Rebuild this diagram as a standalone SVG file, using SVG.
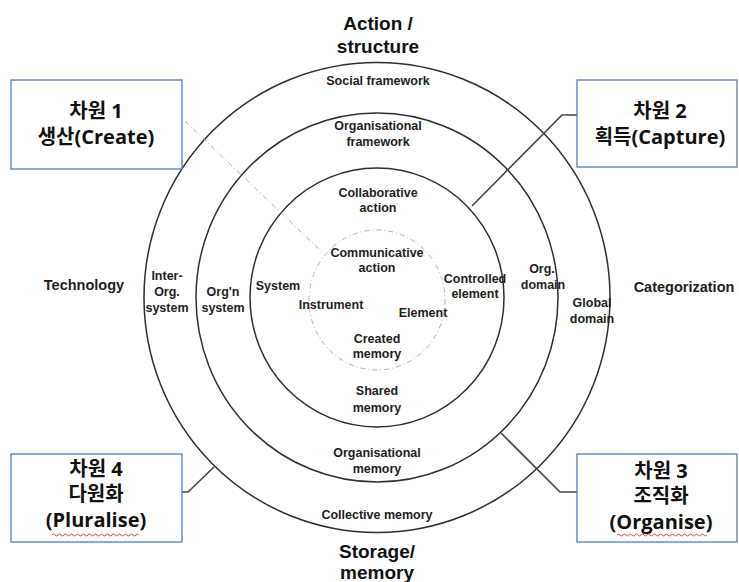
<svg xmlns="http://www.w3.org/2000/svg" width="739" height="582" viewBox="0 0 739 582">
<style>
.ring{fill:none;stroke:#2e2e2e;stroke-width:1.5}
.dash{fill:none;stroke:#b0b0b0;stroke-width:1;stroke-dasharray:5 3 1 3}
.conn{fill:none;stroke:#444;stroke-width:1.6}
.box{fill:#fff;stroke:#4f7fb8;stroke-width:1.3}
.lb{font-family:"Liberation Sans",Arial,sans-serif;font-weight:bold;fill:#1e1e1e;text-anchor:middle}
.s{font-size:12.5px}
.m{font-size:14.5px}
.l{font-size:19px;fill:#111}
.kr{font-family:"Open Sans","Noto Sans CJK KR",sans-serif;font-weight:bold;font-size:20px;fill:#111;text-anchor:middle}
.wave{fill:none;stroke:#e03030;stroke-width:0.9}
</style>
<rect width="739" height="582" fill="#fff"/>
<g id="rings">
<ellipse class="ring" cx="377" cy="297.5" rx="233" ry="235"/>
<ellipse class="ring" cx="377" cy="297.5" rx="181" ry="184.5"/>
<ellipse class="ring" cx="377" cy="297.5" rx="127" ry="129.5"/>
<ellipse class="dash" cx="377" cy="300" rx="68" ry="70"/>
<line class="dash" x1="185" y1="121" x2="323" y2="253"/>
</g>
<g id="connectors">
<polyline class="conn" points="577,115 562,115 472,206"/>
<polyline class="conn" points="182,492 188,492 214,467"/>
<polyline class="conn" points="577,492 560,492 501,433"/>
</g>
<g id="ring-labels">
<text class="lb l" x="378" y="30">Action /</text>
<text class="lb l" x="378" y="53">structure</text>
<text class="lb s" x="378" y="85">Social framework</text>
<text class="lb s" x="378" y="130">Organisational</text>
<text class="lb s" x="378" y="146">framework</text>
<text class="lb s" x="378" y="197">Collaborative</text>
<text class="lb s" x="378" y="212">action</text>
<text class="lb s" x="377" y="257">Communicative</text>
<text class="lb s" x="377" y="272">action</text>
<text class="lb s" x="278" y="290">System</text>
<text class="lb s" x="331" y="309">Instrument</text>
<text class="lb s" x="423" y="317">Element</text>
<text class="lb s" x="475" y="283">Controlled</text>
<text class="lb s" x="475" y="298">element</text>
<text class="lb s" x="377" y="343">Created</text>
<text class="lb s" x="377" y="358">memory</text>
<text class="lb s" x="377" y="395">Shared</text>
<text class="lb s" x="377" y="412">memory</text>
<text class="lb s" x="377" y="457">Organisational</text>
<text class="lb s" x="377" y="473">memory</text>
<text class="lb s" x="377" y="519">Collective memory</text>
<text class="lb l" x="377" y="558">Storage/</text>
<text class="lb l" x="377" y="579">memory</text>
<text class="lb m" x="84" y="290">Technology</text>
<text class="lb s" x="167" y="280">Inter-</text>
<text class="lb s" x="167" y="296">Org.</text>
<text class="lb s" x="167" y="312">system</text>
<text class="lb s" x="223" y="296">Org'n</text>
<text class="lb s" x="223" y="312">system</text>
<text class="lb s" x="542" y="273">Org.</text>
<text class="lb s" x="543" y="289">domain</text>
<text class="lb s" x="592" y="307">Global</text>
<text class="lb s" x="592" y="323">domain</text>
<text class="lb m" x="684" y="292">Categorization</text>
</g>
<g id="box1">
<rect class="box" x="11" y="80" width="171" height="89"/>
<text class="kr" x="96" y="118">차원 1</text>
<text class="kr" x="96" y="144">생산(Create)</text>
</g>
<g id="box2">
<rect class="box" x="577" y="80" width="160" height="87"/>
<text class="kr" x="660" y="118">차원 2</text>
<text class="kr" x="660" y="144">획득(Capture)</text>
</g>
<g id="box3">
<rect class="box" x="577" y="454" width="160" height="88"/>
<text class="kr" x="661" y="478">차원 3</text>
<text class="kr" x="661" y="503">조직화</text>
<text class="kr" x="661" y="529">(Organise)</text>
<path class="wave" d="M617,535 q1.5,-2 3,0 t3,0 t3,0 t3,0 t3,0 t3,0 t3,0 t3,0 t3,0 t3,0 t3,0 t3,0 t3,0 t3,0 t3,0 t3,0 t3,0 t3,0 t3,0 t3,0 t3,0 t3,0 t3,0 t3,0 t3,0 t3,0 t3,0 t3,0 t3,0 t3,0"/>
</g>
<g id="box4">
<rect class="box" x="11" y="454" width="171" height="88"/>
<text class="kr" x="96" y="476">차원 4</text>
<text class="kr" x="96" y="501">다원화</text>
<text class="kr" x="96" y="527">(Pluralise)</text>
<path class="wave" d="M52,535 q1.5,-2 3,0 t3,0 t3,0 t3,0 t3,0 t3,0 t3,0 t3,0 t3,0 t3,0 t3,0 t3,0 t3,0 t3,0 t3,0 t3,0 t3,0 t3,0 t3,0 t3,0 t3,0 t3,0 t3,0 t3,0 t3,0 t3,0 t3,0 t3,0 t3,0"/>
</g>
</svg>
